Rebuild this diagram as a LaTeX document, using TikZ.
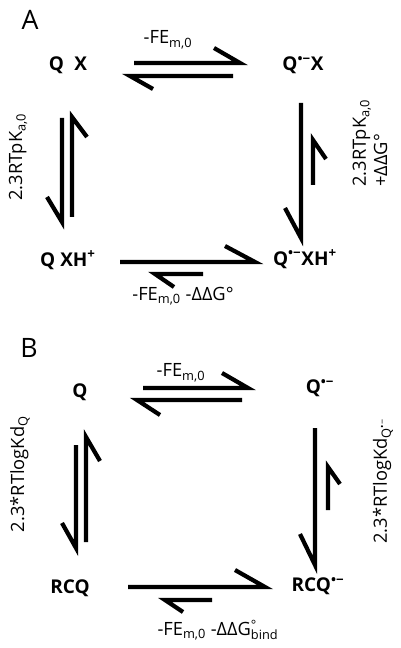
\documentclass[tikz,border=0pt]{standalone}
\usepackage{fontspec}
\setmainfont{Open Sans}
\usetikzlibrary{positioning}

\begin{document}
\begin{tikzpicture}[x=0.025cm, y=-0.025cm,
    every node/.style={font=\fontsize{13}{15}\selectfont},
    species/.style={font=\fontsize{13.5}{15}\selectfont\bfseries},
    lbl/.style={inner sep=1pt},
    panel/.style={font=\fontsize{19}{22}\selectfont},
    eqline/.style={line width=3pt}]
    \useasboundingbox (0,0) rectangle (400,648);

    % panel A
    \node[panel] (pa) at (30,20) {A};

    \node[species] (qx) at (68,65) {Q\hspace{0.55em}X};
    \node[species] (qrx) at (303,65) {Q\textsuperscript{•−}X};
    \node[species] (qxh) at (68,260) {Q XH\textsuperscript{+}};
    \node[species] (qrxh) at (305,259) {Q\textsuperscript{•−}XH\textsuperscript{+}};

    \node[lbl] (fea) at (168,40) {-FE\textsubscript{m,0}};
    \node[lbl] (feda) at (183,296) {-FE\textsubscript{m,0} -ΔΔG°};
    \node[lbl, rotate=90] (pka) at (18,157) {2.3RTpK\textsubscript{a,0}};
    \node[lbl, rotate=90, align=left] (pkb) at (370,143) {2.3RTpK\textsubscript{a,0}\\+ΔΔG°};

    \coordinate (a1) at (134,63);  \coordinate (a2) at (240,63);
    \coordinate (a3) at (233,76);  \coordinate (a4) at (130,76);
    \coordinate (a5) at (72,217);  \coordinate (a6) at (72,117);
    \coordinate (a7) at (62,118);  \coordinate (a8) at (62,222);
    \coordinate (a9) at (301,103); \coordinate (a10) at (301,238);
    \coordinate (a11) at (313,185); \coordinate (a12) at (313,140);
    \coordinate (a13) at (120,262); \coordinate (a14) at (255,262);
    \coordinate (a15) at (203,274); \coordinate (a16) at (155,274);

    \draw[eqline] (a1) -- (a2) -- ++(-26,-15);
    \draw[eqline] (a3) -- (a4) -- ++(23,13);
    \draw[eqline] (a5) -- (a6) -- ++(15,20);
    \draw[eqline] (a7) -- (a8) -- ++(-15,-25);
    \draw[eqline] (a9) -- (a10) -- ++(-16,-30);
    \draw[eqline] (a11) -- (a12) -- ++(13,19);
    \draw[eqline] (a13) -- (a14) -- ++(-30,-16);
    \draw[eqline] (a15) -- (a16) -- ++(19,13);

    % panel B
    \node[panel] (pb) at (29,348) {B};

    \node[species] (q) at (80,392) {Q};
    \node[species] (qr) at (320,388) {Q\textsuperscript{•−}};
    \node[species] (rcq) at (70,588) {RCQ};
    \node[species] (rcqr) at (318,586) {RCQ\textsuperscript{•−}};

    \node[lbl] (feb) at (181,373) {-FE\textsubscript{m,0}};
    \node[lbl] (fedb) at (218,630) {-FE\textsubscript{m,0} -ΔΔG\rlap{\textsuperscript{°}}\textsubscript{bind}};
    \node[lbl, rotate=90] (kdq) at (20,474) {2.3*RTlogKd\textsubscript{Q}};
    \node[lbl, rotate=90] (kdqr) at (383,481) {2.3*RTlogKd\textsubscript{Q\textsuperscript{•−}}};

    \coordinate (b1) at (143,388); \coordinate (b2) at (248,388);
    \coordinate (b3) at (242,400); \coordinate (b4) at (137,400);
    \coordinate (b5) at (86,542);  \coordinate (b6) at (86,437);
    \coordinate (b7) at (76,445);  \coordinate (b8) at (76,548);
    \coordinate (b9) at (315,428); \coordinate (b10) at (315,565);
    \coordinate (b11) at (328,510); \coordinate (b12) at (328,467);
    \coordinate (b13) at (128,587); \coordinate (b14) at (265,587);
    \coordinate (b15) at (212,600); \coordinate (b16) at (165,600);

    \draw[eqline] (b1) -- (b2) -- ++(-26,-15);
    \draw[eqline] (b3) -- (b4) -- ++(23,15);
    \draw[eqline] (b5) -- (b6) -- ++(14,24);
    \draw[eqline] (b7) -- (b8) -- ++(-14,-25);
    \draw[eqline] (b9) -- (b10) -- ++(-15,-31);
    \draw[eqline] (b11) -- (b12) -- ++(12,17);
    \draw[eqline] (b13) -- (b14) -- ++(-30,-17);
    \draw[eqline] (b15) -- (b16) -- ++(18,12);
\end{tikzpicture}
\end{document}
